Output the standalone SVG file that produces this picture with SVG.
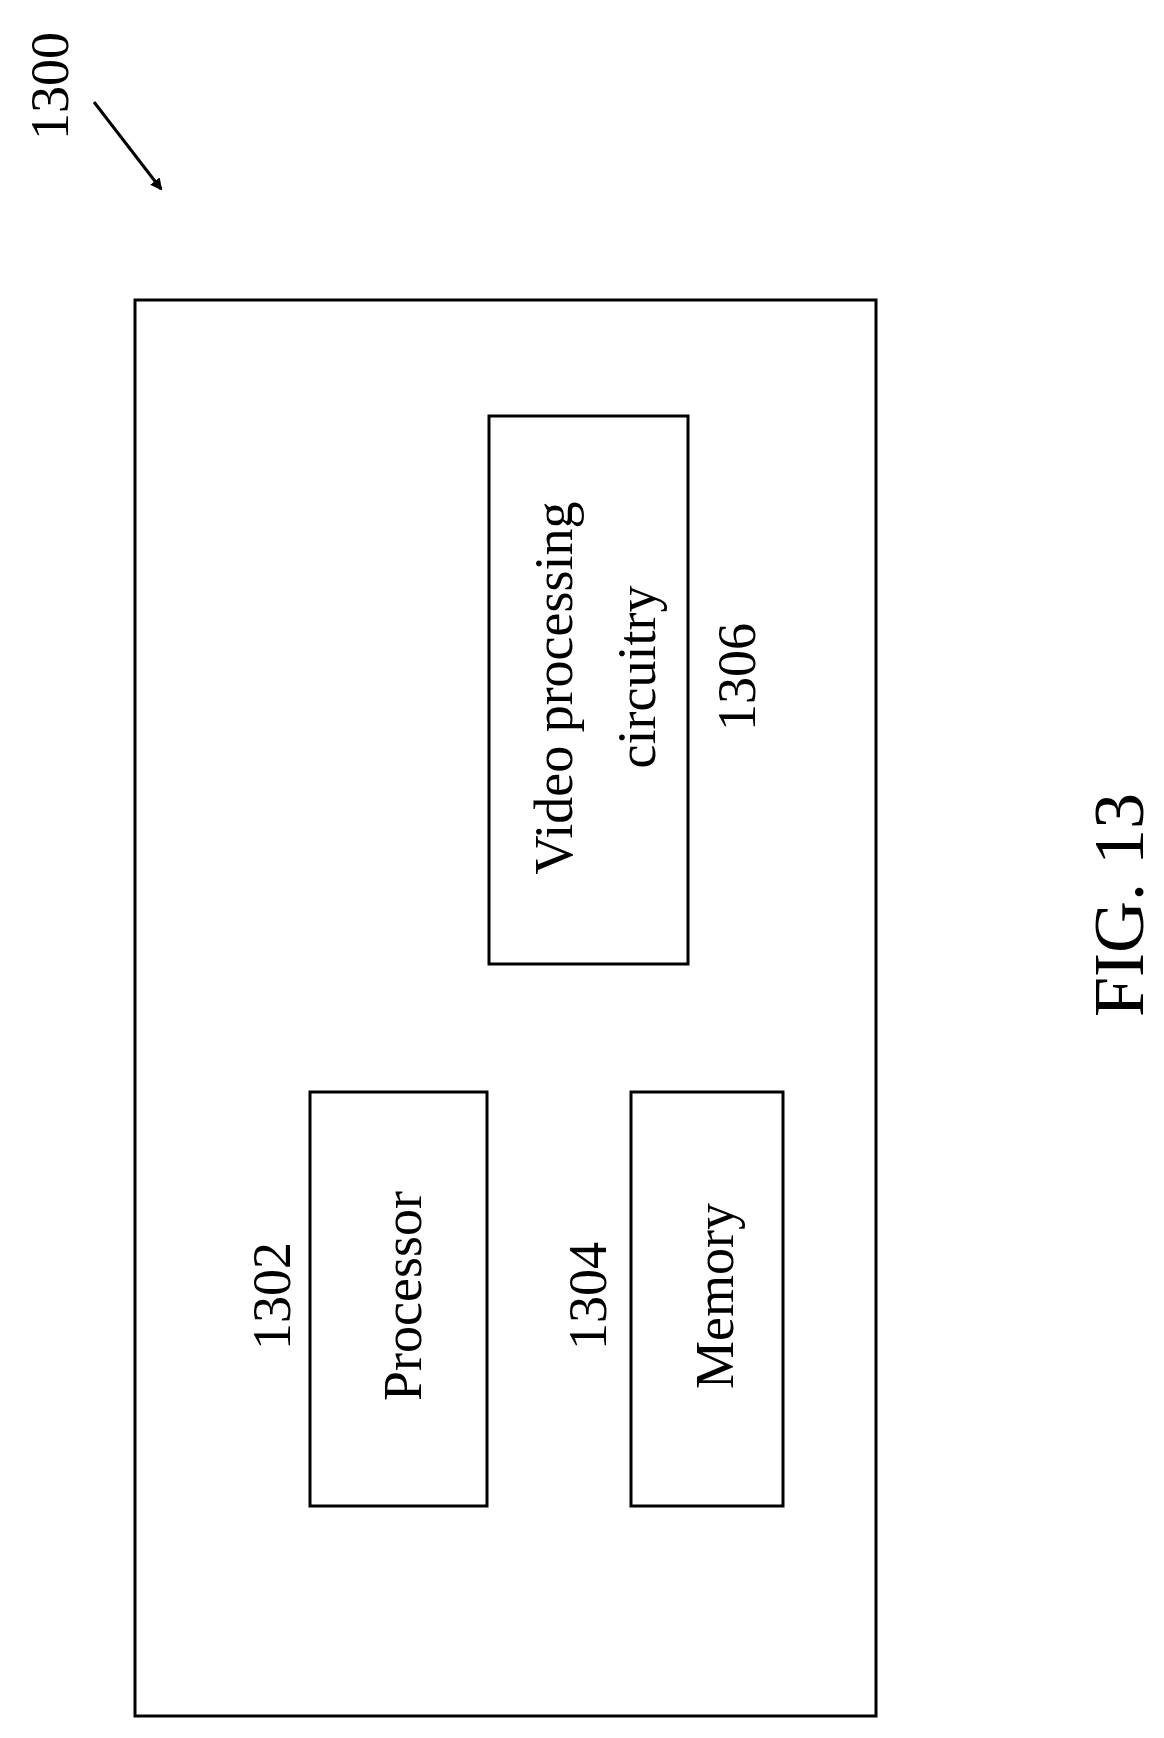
<svg xmlns="http://www.w3.org/2000/svg" width="1164" height="1738" viewBox="0 0 1164 1738">
<style>
.b{fill:none;stroke:#000;stroke-width:3}
.t{font-family:"Liberation Serif",serif;font-size:54px;fill:#000;text-anchor:middle;dominant-baseline:central}
</style>
<defs><marker id="a" markerWidth="12" markerHeight="12" refX="10" refY="6" orient="auto" markerUnits="userSpaceOnUse" viewBox="0 0 12 12"><path d="M0,0 L12,6 L0,12 Z" fill="#000"/></marker></defs>
<rect width="1164" height="1738" fill="#fff"/>
<g id="n1300"><text class="t" transform="translate(50,86) rotate(-90)">1300</text></g>
<g id="outer"><rect class="b" x="135" y="300" width="741" height="1416"/></g>
<g id="processor"><rect class="b" x="310" y="1092" width="177" height="414"/>
<text class="t" transform="translate(272,1296) rotate(-90)">1302</text>
<text class="t" transform="translate(403,1296) rotate(-90)">Processor</text></g>
<g id="memory"><rect class="b" x="631" y="1092" width="152" height="414"/>
<text class="t" transform="translate(588,1296) rotate(-90)">1304</text>
<text class="t" transform="translate(715,1296) rotate(-90)">Memory</text></g>
<g id="video"><rect class="b" x="489" y="416" width="199" height="548"/>
<text class="t" transform="translate(554,688) rotate(-90)">Video processing</text>
<text class="t" transform="translate(637,677) rotate(-90)">circuitry</text>
<text class="t" transform="translate(737,677) rotate(-90)">1306</text></g>
<g id="fig"><text class="t" style="font-size:72px" transform="translate(1119,905) rotate(-90)">FIG. 13</text></g>
<g id="connectors"><line x1="94" y1="102" x2="161" y2="189" stroke="#000" stroke-width="3" marker-end="url(#a)"/></g>
</svg>
